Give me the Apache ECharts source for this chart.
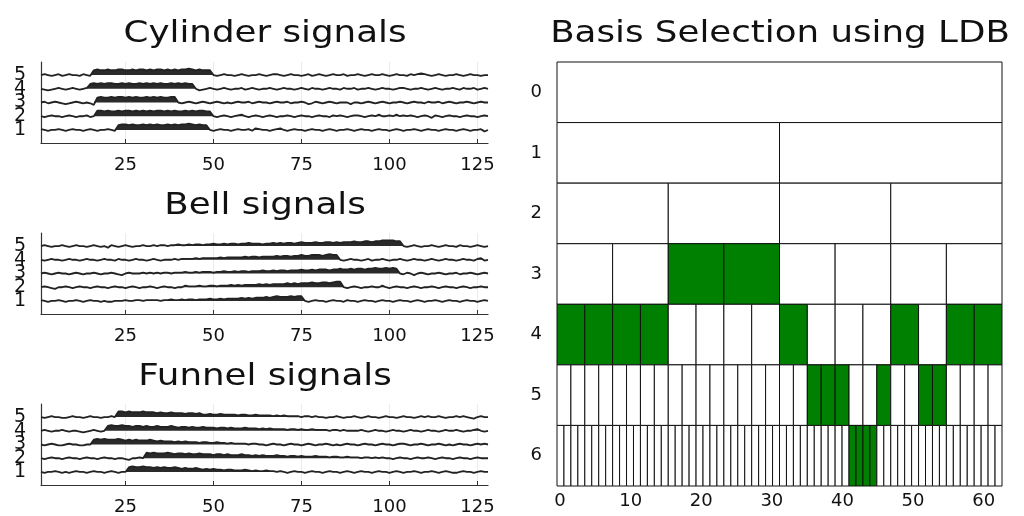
<!DOCTYPE html>
<html>
<head>
<meta charset="utf-8">
<script src="https://cdn.jsdelivr.net/npm/echarts@6/dist/echarts.min.js"></script>
<style>html,body{margin:0;padding:0;background:#fff}#c{width:1024px;height:516px}</style>
</head>
<body>
<div id="c"></div>
<script>
// ---------- Data ----------
const panelTitles = ['Cylinder signals', 'Bell signals', 'Funnel signals'];
const basisTitle = 'Basis Selection using LDB';
const signalTicks = [1, 2, 3, 4, 5];
const signalTicksOdd = [1, 3, 5];
const signalTicksEven = [2, 4];
const timeTicks = [25, 50, 75, 100, 125];
const samples = Array.from({length: 128}, (_, i) => i + 1);

// Cylinder signals (1..5)
const cyl1 = [1,0,-1,0,0,1,0,-1,0,1,0,0,-1,0,1,0,
  -1,0,0,1,0,-1,6,7,7,6,7,6,6,7,6,7,
  6,7,6,6,7,6,7,6,7,7,8,7,6,7,6,6,
  0,-1,0,1,0,0,-1,0,1,0,0,1,-1,2,1,0,
  0,-1,0,1,2,0,-1,0,1,0,0,-1,0,1,0,0,
  -1,0,1,0,-1,0,0,1,0,-1,0,1,0,0,-1,0,
  1,0,0,-1,0,1,0,-1,0,0,1,0,-1,0,1,0,
  0,-1,0,1,0,0,-1,0,1,0,-1,0,0,1,-2,0];
const cyl2 = [0,-1,0,1,0,0,-1,0,1,0,-1,0,0,1,-1,0,
  7,7,6,7,6,6,7,6,7,7,6,7,6,7,6,7,
  6,7,7,6,7,6,7,6,6,7,6,7,6,7,7,6,
  6,0,-1,0,1,0,-1,0,1,2,0,-1,0,1,0,-1,
  0,1,0,-1,0,0,1,0,-1,0,1,0,0,-1,0,1,
  0,0,-1,1,0,1,0,-1,0,1,1,0,-1,0,1,0,
  2,0,0,1,0,2,0,1,0,1,0,-1,0,1,0,-2,
  1,0,-1,0,1,0,0,-1,0,1,0,0,-1,0,1,0];
const cyl3 = [0,1,-1,0,1,0,-1,-2,-1,0,1,0,-1,0,-1,-3,
  6,7,6,6,7,6,7,7,6,7,6,7,6,6,7,6,
  7,6,7,6,6,7,7,0,-1,0,1,0,-1,0,1,0,
  -1,0,1,0,-1,0,-1,0,1,0,0,1,-1,0,1,0,
  0,-1,0,1,0,0,1,-1,0,0,1,0,-2,-1,1,0,
  -1,0,1,0,-1,0,0,0,-2,0,0,-1,0,1,0,-1,
  0,1,0,-1,0,0,1,0,-1,0,1,0,0,-1,1,0,
  0,1,-1,0,1,0,-1,0,0,1,0,-1,0,1,0,0];
const cyl4 = [0,-1,-2,-1,0,1,0,-1,0,1,0,-1,0,1,6,7,
  6,7,6,7,7,6,6,7,6,7,6,6,7,6,7,6,
  7,6,7,6,6,7,6,7,6,7,6,6,0,-2,-1,0,
  1,0,-1,0,1,0,-1,0,0,1,-1,0,1,0,-1,0,
  0,1,0,-1,0,1,0,0,-1,0,1,0,-1,1,0,0,
  -1,0,1,0,0,-1,1,0,0,1,-1,0,0,1,0,-1,
  0,1,0,0,-1,0,1,1,0,-1,0,0,1,0,-1,0,
  1,0,-1,0,0,1,0,-1,1,0,0,1,-1,0,1,0];
const cyl5 = [0,1,0,-1,0,1,-1,0,1,0,0,-1,1,0,-1,6,
  7,6,6,7,6,6,7,7,6,6,7,6,7,7,6,7,
  6,7,7,6,7,6,7,6,7,7,8,7,6,7,6,6,
  6,0,-1,0,1,0,0,-1,0,1,0,-1,0,0,1,0,
  -1,0,1,1,0,-1,0,1,0,0,-1,0,1,-1,0,1,
  0,-1,0,1,0,0,1,-1,0,0,1,0,-1,0,1,0,
  0,1,0,-1,0,1,0,0,-1,1,0,1,2,1,0,-1,
  0,1,0,-1,0,0,1,0,-1,0,1,0,0,-1,0,0];

// Bell signals (1..5)
const bell1 = [1,0,-1,0,0,1,0,-1,0,0,1,0,-1,0,1,0,
  0,-1,0,-1,-1,0,0,0,1,0,0,1,1,0,1,1,
  1,1,0,1,1,2,1,1,2,1,2,2,1,2,2,2,
  3,2,2,3,2,3,3,3,3,4,3,4,3,4,4,4,
  5,4,5,6,5,5,5,6,5,6,6,0,-1,0,1,0,
  0,-1,0,1,0,0,-1,1,0,0,-1,0,1,0,0,-1,
  0,1,0,0,-1,0,1,0,0,-1,0,1,0,-1,0,0,
  1,0,-1,0,1,0,0,-1,0,1,0,0,-1,0,1,0];
const bell2 = [0,1,0,-1,-2,0,0,1,0,-1,0,1,0,0,-1,0,
  1,0,0,-1,0,1,0,0,-1,0,1,0,-1,0,0,1,
  0,-1,0,1,0,0,-1,0,0,2,1,1,1,2,1,1,
  2,2,1,2,2,2,3,2,3,2,3,3,3,3,4,3,
  4,3,4,4,4,4,5,4,5,4,5,5,5,6,5,5,
  6,6,5,6,7,7,0,-1,0,1,0,-1,0,0,1,0,
  0,2,0,-1,0,1,0,0,-1,0,1,0,-1,0,0,1,
  0,-1,0,1,0,0,-1,0,1,0,-1,0,0,1,0,0];
const bell3 = [0,1,0,-1,0,1,0,0,-1,0,1,0,-1,0,0,1,
  0,-1,0,0,1,0,-1,-2,0,1,0,0,0,1,0,1,
  0,1,0,1,1,0,1,1,1,2,1,1,2,1,2,2,
  2,1,2,2,3,2,2,3,2,3,3,2,3,3,3,4,
  3,3,4,3,4,4,3,4,4,4,5,4,4,5,4,5,
  5,5,4,5,5,6,5,5,6,5,6,6,5,6,6,7,
  6,6,7,6,7,6,0,-1,1,0,-2,0,1,0,-1,0,
  0,1,0,-1,0,0,1,-1,0,0,1,0,-1,0,1,0];
const bell4 = [0,-1,0,1,0,0,-1,0,1,0,0,-1,0,1,0,0,
  -1,0,1,0,0,-1,1,0,0,-1,0,1,0,0,-1,0,
  1,0,-1,0,0,0,1,0,1,1,1,1,2,1,2,2,
  2,2,2,3,2,3,3,3,3,3,4,3,4,4,3,4,
  4,4,4,5,4,5,5,4,5,5,6,5,5,6,6,6,
  5,6,7,6,6,0,-1,0,1,0,0,-1,0,1,-1,0,
  0,1,0,-1,0,0,1,0,-1,0,1,0,0,-1,0,1,
  0,-1,0,1,0,0,-1,0,1,0,0,-1,1,2,-1,0];
const bell5 = [0,1,0,-1,0,0,1,0,-1,0,1,0,0,-1,0,1,
  0,-1,0,-2,1,0,-1,0,1,0,-1,0,0,1,0,0,
  1,0,1,1,0,1,1,2,1,1,2,1,2,2,1,2,
  2,3,2,2,3,2,3,3,2,3,3,4,3,3,3,2,
  3,3,4,3,4,3,4,4,3,4,5,4,4,4,5,4,
  4,5,5,4,5,4,5,5,5,6,5,5,6,6,5,6,
  6,7,7,7,7,6,6,0,-1,0,1,0,-1,0,0,1,
  0,-1,0,1,0,0,-1,1,0,0,-1,0,1,0,-1,0];

// Funnel signals (1..5)
const fun1 = [0,-1,0,0,1,0,-1,0,-1,0,1,0,0,-1,0,1,
  0,0,-1,0,1,0,-1,0,0,6,7,6,6,7,6,6,
  5,6,5,6,5,5,6,5,4,5,4,4,5,4,3,4,
  3,4,3,3,2,3,3,2,2,2,3,2,1,2,1,1,
  2,1,1,0,1,0,-1,0,1,0,0,-1,0,1,0,0,
  -1,0,1,0,0,-1,0,1,0,-1,0,1,0,0,-1,0,
  1,0,0,-1,0,1,0,-1,0,0,1,0,-1,0,0,1,
  0,-1,0,1,0,-1,-1,0,1,0,0,-1,0,1,0,0];
const fun2 = [0,-1,0,1,0,0,-1,0,1,0,0,-1,0,1,0,0,
  -1,0,1,0,0,-1,0,0,-1,-2,0,0,1,0,7,6,
  7,6,6,6,7,6,5,6,6,5,6,5,5,6,5,5,
  5,4,5,5,4,5,4,4,4,5,4,4,3,4,3,4,
  3,3,3,4,3,3,2,3,3,2,3,2,2,2,3,2,
  2,2,1,2,2,1,1,2,1,1,1,0,1,1,0,1,
  0,1,0,0,-1,0,1,0,0,-1,0,1,0,0,1,0,
  -1,0,1,0,0,-1,0,1,0,0,-1,0,1,0,0,0];
const fun3 = [0,-1,0,1,0,-1,-1,0,1,0,0,-1,-1,0,0,6,
  7,6,7,6,6,6,7,6,5,6,5,6,5,5,5,6,
  5,4,5,4,4,4,3,4,3,4,3,3,3,2,3,3,
  2,2,3,2,2,1,2,1,1,1,1,0,1,1,0,0,
  -1,0,1,0,0,-1,0,1,0,0,-1,0,1,0,-1,0,
  0,1,0,-1,0,-1,0,1,0,0,-1,0,1,0,0,-1,
  0,1,0,0,-1,0,1,1,0,-1,0,0,1,0,-1,0,
  0,1,0,-1,0,-1,0,1,0,0,-1,0,1,0,1,0];
const fun4 = [0,1,0,-1,0,0,1,0,-1,0,0,-1,-2,-1,0,1,
  0,-1,0,6,7,6,6,7,6,6,5,6,6,5,6,5,
  5,6,5,5,5,6,5,4,5,5,4,5,4,4,5,4,
  4,4,3,4,4,3,4,3,3,3,4,3,3,3,2,3,
  2,3,2,2,2,2,1,2,2,1,2,1,1,2,1,1,
  1,1,0,1,1,0,1,0,0,0,0,1,0,-1,0,1,
  0,0,-1,0,1,0,0,-1,0,1,0,0,-1,0,1,0,
  0,-1,0,1,0,0,1,0,-1,0,0,1,2,0,-1,0];
const fun5 = [0,-1,0,1,0,0,-1,-1,0,1,0,0,-1,0,1,0,
  0,-1,0,0,1,0,7,7,6,7,6,6,6,7,6,6,
  6,5,6,5,5,6,5,5,5,4,5,5,4,5,3,3,
  4,3,3,4,3,3,3,3,2,3,3,2,2,3,2,2,
  2,2,1,2,1,2,1,1,1,1,0,1,1,0,1,0,
  0,-1,0,0,1,0,-1,0,0,1,0,-1,0,1,0,0,
  -1,0,1,0,0,-1,0,1,0,0,-1,0,1,0,1,0,
  0,1,0,-1,0,0,1,0,1,0,-1,-2,0,1,0,0];

// Basis selection tree: levels 0..6, selected node indices per level
const levels = [0, 1, 2, 3, 4, 5, 6];
const levelLabels = ['0', '1', '2', '3', '4', '5', '6'];
const selL0 = [];
const selL1 = [];
const selL2 = [];
const selL3 = [2, 3];
const selL4 = [0, 1, 2, 3, 8, 12, 14, 15];
const selL5 = [18, 19, 20, 23, 26, 27];
const selL6 = [42, 43, 44, 45];
const coeffTicks = [0, 10, 20, 30, 40, 50, 60];
const nCoeffs = 64;

// ---------- Build ----------
const groups = [[cyl1, cyl2, cyl3, cyl4, cyl5], [bell1, bell2, bell3, bell4, bell5], [fun1, fun2, fun3, fun4, fun5]];
const SCALE = 0.058;
const FONT = '"DejaVu Sans", sans-serif';
const panelTops = [62, 233, 404];
const panelTitleY = [34, 206, 377];

const grids = [], xAxes = [], yAxes = [], series = [];
function sigYAxis(g, ticks, showLine) {
  return {
    gridIndex: g, type: 'value', min: 0.05, max: 5.95, position: 'left', offset: 0,
    axisLine: {show: showLine, lineStyle: {color: '#333', width: 1.2}},
    axisTick: {show: false},
    axisLabel: {show: true, customValues: ticks, fontSize: 19, color: '#111', fontFamily: FONT, margin: 15,
      showMinLabel: true, showMaxLabel: true},
    splitLine: {show: false}
  };
}
panelTops.forEach((top, g) => {
  grids.push({left: 41, width: 447, top: top, height: 81});
  xAxes.push({
    gridIndex: g, type: 'value', min: 1, max: 128,
    axisLine: {show: true, lineStyle: {color: '#333', width: 1.2}},
    axisTick: {show: true, inside: true, length: 4, customValues: timeTicks, lineStyle: {color: '#333'}},
    axisLabel: {show: true, customValues: timeTicks, fontSize: 18, color: '#111', fontFamily: FONT, margin: 13,
      showMinLabel: true, showMaxLabel: true},
    splitLine: {show: true, customValues: timeTicks, lineStyle: {color: '#ebebeb', width: 1}}
  });
});
// main y axes 0..2 (data + odd labels)
panelTops.forEach((top, g) => yAxes.push(sigYAxis(g, signalTicksOdd, true)));

panelTops.forEach((top, g) => {
  groups[g].forEach((sig, j) => {
    const base = signalTicks[j];
    series.push({
      type: 'line', xAxisIndex: g, yAxisIndex: g, silent: true, symbol: 'none', animation: false,
      data: samples.map((x, i) => [x, base + Math.max(sig[i], 0) * SCALE]),
      lineStyle: {width: 0},
      areaStyle: {color: '#2a2a2a', opacity: 1, origin: base},
      z: 2
    });
    series.push({
      type: 'line', xAxisIndex: g, yAxisIndex: g, silent: true, symbol: 'none', animation: false,
      data: samples.map((x, i) => [x, base + sig[i] * SCALE]),
      lineStyle: {width: 1.8, color: '#222'},
      z: 3
    });
  });
});

// Right panel
grids.push({left: 557, width: 445, top: 62, height: 424});
xAxes.push({gridIndex: 3, type: 'value', min: 0, max: nCoeffs, show: false});
xAxes.push({
  gridIndex: 3, type: 'value', min: -0.43, max: 62.6, position: 'bottom',
  axisLine: {show: false}, axisTick: {show: false},
  axisLabel: {show: true, customValues: coeffTicks, fontSize: 18, color: '#111', fontFamily: FONT, margin: 6,
    showMinLabel: true, showMaxLabel: true},
  splitLine: {show: false}
});
yAxes.push({
  gridIndex: 3, type: 'category', data: levelLabels, inverse: true,
  axisLine: {show: false}, axisTick: {show: false},
  axisLabel: {fontSize: 18, color: '#111', fontFamily: FONT, margin: 15},
  splitLine: {show: false}
});
// even-label axes (indices 4..6)
panelTops.forEach((top, g) => yAxes.push(sigYAxis(g, signalTicksEven, false)));

const selected = [selL0, selL1, selL2, selL3, selL4, selL5, selL6];
const cells = [];
levels.forEach(l => {
  const n = Math.pow(2, l), w = nCoeffs / n;
  for (let k = 0; k < n; k++) cells.push([k * w, (k + 1) * w, l, selected[l].includes(k) ? 1 : 0]);
});
series.push({
  type: 'custom', xAxisIndex: 3, yAxisIndex: 3, data: cells, silent: true, animation: false,
  encode: {x: [0, 1], y: 2},
  renderItem: (params, api) => {
    const p0 = api.coord([api.value(0), api.value(2)]);
    const p1 = api.coord([api.value(1), api.value(2)]);
    const h = api.size([0, 1])[1];
    return {
      type: 'rect',
      shape: {x: p0[0], y: p0[1] - h / 2, width: p1[0] - p0[0], height: h},
      style: {fill: api.value(3) ? '#008000' : '#ffffff', stroke: '#111', lineWidth: 1}
    };
  }
});

const titles = panelTitles.map((t, g) => ({
  type: 'text', x: 265, y: panelTitleY[g], scaleX: 1.15,
  style: {text: t, font: '31px ' + FONT, fill: '#111', textAlign: 'center', textVerticalAlign: 'middle'}
}));
titles.push({
  type: 'text', x: 780, y: 34, scaleX: 1.15,
  style: {text: basisTitle, font: '31px ' + FONT, fill: '#111', textAlign: 'center', textVerticalAlign: 'middle'}
});

const chart = echarts.init(document.getElementById('c'), null, {renderer: 'canvas'});
chart.setOption({
  animation: false,
  backgroundColor: '#ffffff',
  grid: grids, xAxis: xAxes, yAxis: yAxes, series: series,
  graphic: titles
});
</script>
</body>
</html>
